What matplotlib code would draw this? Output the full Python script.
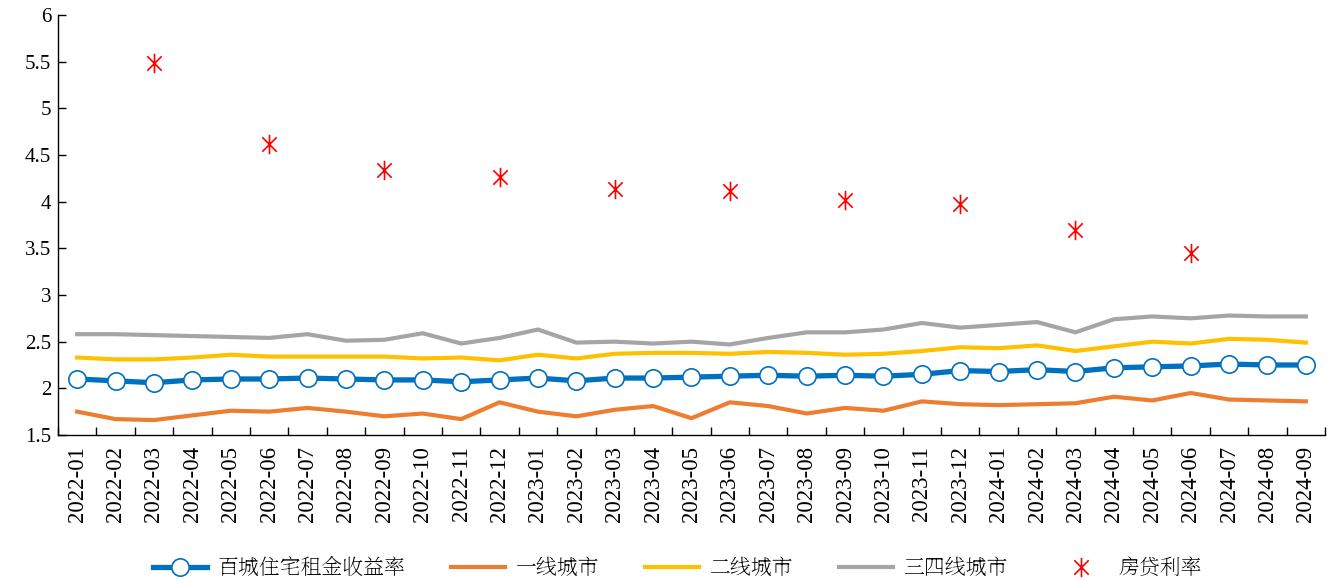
import matplotlib
matplotlib.use("Agg")
import matplotlib.pyplot as plt
from matplotlib.path import Path
import numpy as np

plt.rcParams['font.family'] = ['Liberation Serif', 'Noto Serif SC']

# months 2022-01 .. 2024-09
months = ['2022-01', '2022-02', '2022-03', '2022-04', '2022-05', '2022-06',
          '2022-07', '2022-08', '2022-09', '2022-10', '2022-11', '2022-12',
          '2023-01', '2023-02', '2023-03', '2023-04', '2023-05', '2023-06',
          '2023-07', '2023-08', '2023-09', '2023-10', '2023-11', '2023-12',
          '2024-01', '2024-02', '2024-03', '2024-04', '2024-05', '2024-06',
          '2024-07', '2024-08', '2024-09']

yield_100 = [2.10, 2.08, 2.06, 2.09, 2.10, 2.10, 2.11, 2.10, 2.09, 2.09, 2.07,
             2.09, 2.11, 2.08, 2.11, 2.11, 2.12, 2.13, 2.14, 2.13, 2.14, 2.13,
             2.15, 2.19, 2.18, 2.20, 2.18, 2.22, 2.23, 2.24, 2.26, 2.25, 2.25]
tier1 = [1.75, 1.67, 1.66, 1.71, 1.76, 1.75, 1.79, 1.75, 1.70, 1.73, 1.67,
         1.85, 1.75, 1.70, 1.77, 1.81, 1.68, 1.85, 1.81, 1.73, 1.79, 1.76,
         1.86, 1.83, 1.82, 1.83, 1.84, 1.91, 1.87, 1.95, 1.88, 1.87, 1.86]
tier2 = [2.33, 2.31, 2.31, 2.33, 2.36, 2.34, 2.34, 2.34, 2.34, 2.32, 2.33,
         2.30, 2.36, 2.32, 2.37, 2.38, 2.38, 2.37, 2.39, 2.38, 2.36, 2.37,
         2.40, 2.44, 2.43, 2.46, 2.40, 2.45, 2.50, 2.48, 2.53, 2.52, 2.49]
tier34 = [2.58, 2.58, 2.57, 2.56, 2.55, 2.54, 2.58, 2.51, 2.52, 2.59, 2.48,
          2.54, 2.63, 2.49, 2.50, 2.48, 2.50, 2.47, 2.54, 2.60, 2.60, 2.63,
          2.70, 2.65, 2.68, 2.71, 2.60, 2.74, 2.77, 2.75, 2.78, 2.77, 2.77]

# mortgage rate, quarter-end months only
mort_months = ['2022-03', '2022-06', '2022-09', '2022-12', '2023-03', '2023-06',
               '2023-09', '2023-12', '2024-03', '2024-06']
mort_rate = [5.49, 4.62, 4.34, 4.26, 4.14, 4.11, 4.02, 3.97, 3.70, 3.45]

x = np.arange(len(months))
mx = [months.index(m) for m in mort_months]

# excel-like star: X plus vertical bar
star = Path([(-1, -1), (1, 1), (-1, 1), (1, -1), (0, -1.35), (0, 1.35)],
            [Path.MOVETO, Path.LINETO, Path.MOVETO, Path.LINETO, Path.MOVETO, Path.LINETO])

fig = plt.figure(figsize=(13.33, 5.82), dpi=100)
ax = fig.add_axes([0.0435, 0.2526, 0.9505, 0.7216])

ax.plot(x, tier1, color='#ED7D31', lw=3.0, label='一线城市', zorder=2)
ax.plot(x, tier2, color='#FFC000', lw=3.0, label='二线城市', zorder=2)
ax.plot(x, tier34, color='#A5A5A5', lw=3.0, label='三四线城市', zorder=2)
ax.plot(x, yield_100, color='#0070C0', lw=3.8, marker='o', ms=12.5,
        mfc='white', mec='#0070C0', mew=1.2, label='百城住宅租金收益率', zorder=3)
ax.plot(mx, mort_rate, ls='none', marker=star, ms=14, mec='#FF0000',
        mew=1.2, color='#FF0000', label='房贷利率', zorder=4)

ax.set_xlim(-0.5, len(months) - 0.5)
ax.set_ylim(1.5, 6)
ax.set_yticks(np.arange(1.5, 6.01, 0.5))
ax.set_yticklabels(['1.5', '2', '2.5', '3', '3.5', '4', '4.5', '5', '5.5', '6'],
                   family='Liberation Serif')
ax.set_xticks(x)
ax.set_xticklabels(months, rotation=90, family='Liberation Serif')
ax.set_xticks(np.arange(-0.5, len(months), 1), minor=True)
ax.tick_params(axis='x', which='major', length=0, labelsize=16.5, pad=8)
ax.tick_params(axis='x', which='minor', direction='in', length=6, width=1)
ax.tick_params(axis='y', direction='in', length=6, width=1, labelsize=15, pad=5)

for s in ['top', 'right']:
    ax.spines[s].set_visible(False)
for s in ['left', 'bottom']:
    ax.spines[s].set_linewidth(1)
    ax.spines[s].set_color('black')

handles, labels = ax.get_legend_handles_labels()
order = [3, 0, 1, 2, 4]
leg = fig.legend([handles[i] for i in order], [labels[i] for i in order],
                 loc='center', bbox_to_anchor=(0.508, 0.024), ncol=5, frameon=False,
                 prop={'family': 'Noto Serif SC', 'size': 15},
                 handlelength=2.6, columnspacing=2.2, handletextpad=0.5)

fig.savefig('out.png', dpi=100)
